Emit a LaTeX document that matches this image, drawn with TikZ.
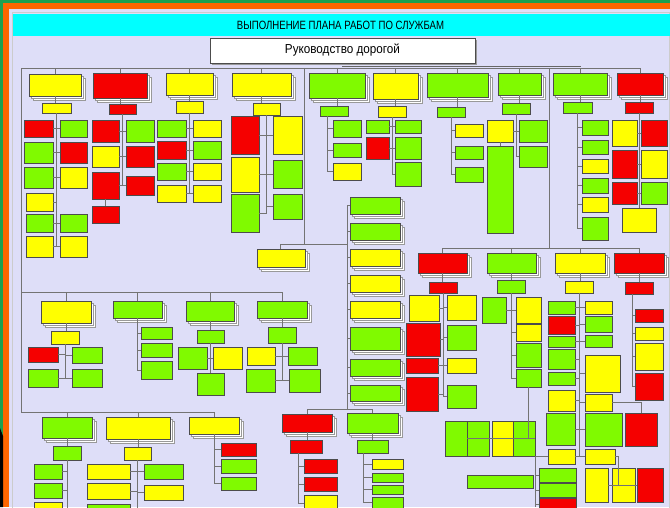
\documentclass[tikz,border=0pt]{standalone}
\usepackage{fontspec}
\setmainfont{Liberation Sans}
\usepackage{xcolor}
\usetikzlibrary{shadows}
\definecolor{boxY}{RGB}{255,255,0}
\definecolor{boxR}{RGB}{245,0,0}
\definecolor{boxG}{RGB}{128,250,0}
\definecolor{lav}{RGB}{222,222,248}
\definecolor{barC}{RGB}{0,255,255}
\definecolor{frameO}{RGB}{255,102,0}
\definecolor{frameG}{RGB}{30,160,80}
\begin{document}
\begin{tikzpicture}[x=1pt, y=-1pt,
  base/.style={draw=black!70, line width=0.4pt, inner sep=0pt, outer sep=0pt},
  box/.style={base, general shadow={shadow xshift=0.8pt, shadow yshift=-0.8pt, fill=black!45}},
  stack/.style={base, double copy shadow={shadow xshift=2pt, shadow yshift=-2pt, fill=white, draw=black!40}},
  wire/.style={draw=black!55, line width=0.6pt}]
\useasboundingbox (0,0) rectangle (670,507);
\fill[frameG] (0,0) rectangle (670,507);
\fill[frameO] (3,3) rectangle (670,507);
\fill[black] (0,428) -- (3,436) -- (3,507) -- (0,507) -- cycle;
\fill[lav] (9,9) rectangle (670,507);
\draw[black!20] (12,12) rectangle (669,508);
\fill[barC] (13,14) rectangle (670,36);
\node (title) at (340.5,25) {\scalebox{0.8}[1]{\fontsize{12}{14}\selectfont ВЫПОЛНЕНИЕ ПЛАНА РАБОТ ПО СЛУЖБАМ}};
\node[base, fill=white, minimum width=265pt, minimum height=25pt,
  general shadow={shadow xshift=2pt, shadow yshift=-2pt, fill=black!40}] (hq) at (342.5,50.5)
  {\scalebox{0.9}[1]{\fontsize{13}{15}\selectfont Руководство дорогой}};
\foreach \nm/\col/\xa/\ya/\xb/\yb in {
  t1/Y/29/74/81/96, t2/R/93/73/147/98, t3/Y/166/73/213/95, t4/Y/232/73/291/96, t5/G/309/73/365/98,
  t6/Y/373/73/418/99, t7/G/427/73/488/97, t8/G/498/73/541/95, t9/G/553/73/607/95, t10/R/617/73/663/95,
  m0/Y/257/249/305/267, m1/G/350/197/400/214, m2/G/350/223/400/240, m3/Y/350/249/400/266,
  m4/Y/350/275/400/292, m5/Y/350/301/400/318, m6/G/350/327/400/350, m7/G/350/359/400/376, m8/G/350/385/400/401,
  sD/Y/41/301/91/323, sE/G/113/301/162/318, sF/G/186/301/234/321, sG/G/257/301/307/318,
  sA/G/42/417/92/438, sB/Y/106/417/170/439, sC/Y/189/417/239/434, sH/R/282/414/332/432, sL/G/347/413/398/433,
  b1/R/418/253/467/273, b2/G/487/253/536/273, b3/Y/555/253/605/273, b4/R/614/253/664/273}
  \node[stack, fill=box\col, minimum width={(\xb-\xa)*1pt}, minimum height={(\yb-\ya)*1pt}] (\nm) at ({(\xa+\xb)/2},{(\ya+\yb)/2}) {};
\foreach \nm/\col/\xa/\ya/\xb/\yb in {
  n1/Y/42/103/71/113, t1a/R/24/120/53/137, t1b/G/24/142/53/163, t1c/G/24/167/53/188, t1d/Y/26/193/53/211,
  t1e/G/26/214/53/232, t1f/Y/26/236/53/257, t1g/G/60/120/87/137, t1h/R/60/142/87/163, t1i/Y/60/167/87/188,
  t1j/G/60/214/87/232, t1k/Y/60/236/87/257,
  n2/R/109/104/136/114, t2a/R/92/120/119/142, t2b/Y/92/146/119/167, t2c/R/92/172/119/199, t2d/R/92/206/119/223,
  t2e/G/126/120/154/142, t2f/R/126/146/154/167, t2g/R/126/176/154/195,
  n3/Y/176/101/203/113, t3a/G/157/120/186/137, t3b/R/157/141/186/159, t3c/G/157/163/186/180, t3d/Y/157/185/186/202,
  t3e/Y/193/120/221/137, t3f/G/193/141/221/159, t3g/Y/193/163/221/180, t3h/Y/193/185/221/202,
  n4/Y/253/103/280/115, t4a/R/231/116/259/154, t4b/Y/231/157/259/192, t4c/G/231/194/259/232,
  t4d/Y/273/116/302/154, t4e/G/273/160/302/188, t4f/G/273/194/302/219,
  n5/G/320/106/348/116, t5a/G/333/120/361/137, t5b/G/333/143/361/157, t5c/Y/333/163/361/180,
  n6/Y/378/106/406/117, t6a/G/366/120/389/133, t6b/R/366/137/389/159, t6c/G/395/120/421/133,
  t6d/G/395/137/421/159, t6e/G/395/162/421/186,
  n7/G/437/107/465/117, t7a/Y/455/124/483/137, t7b/G/455/146/483/159, t7c/G/455/167/483/182,
  n8/G/502/103/530/114, t8a/Y/487/120/513/142, t8b/G/487/146/513/233, t8c/G/519/120/547/142, t8d/G/519/146/547/167,
  n9/G/563/102/592/113, t9a/G/582/120/608/135, t9b/G/582/140/608/154, t9c/Y/582/159/608/173,
  t9d/G/582/178/608/193, t9e/Y/582/197/608/212, t9f/G/582/217/608/240,
  n10/R/625/102/653/113, t10a/Y/612/120/637/146, t10b/R/612/150/637/178, t10c/R/612/182/637/204,
  t10d/R/641/120/667/146, t10e/Y/641/150/667/178, t10f/G/641/182/667/204, t10g/Y/622/208/656/232,
  nD/Y/51/331/79/344, dA/R/28/347/58/362, dB/G/28/369/58/387, dC/G/72/347/102/363, dD/G/72/369/102/387,
  eA/G/141/327/172/339, eB/G/141/343/172/357, eC/G/141/361/172/379,
  nF/G/197/330/224/343, fA/G/178/347/207/369, fB/Y/213/347/242/369, fC/G/197/373/224/395,
  nG/G/268/327/296/343, gA/Y/247/347/275/365, gB/G/246/369/275/392, gC/G/288/347/317/365, gD/G/289/369/320/392,
  nA/G/53/446/81/460, aA/G/34/464/62/479, aB/G/34/483/62/498, aC/Y/34/502/62/514,
  nB/Y/124/447/151/460, bA/Y/87/464/130/479, bB/Y/87/483/130/499, bC/G/87/504/130/516,
  bD/G/144/464/183/479, bE/Y/144/485/183/500,
  cA/R/221/443/256/456, cB/G/221/459/256/473, cC/G/221/477/256/490,
  nH/R/290/440/322/453, hA/R/304/459/337/473, hB/R/304/477/337/491, hC/Y/304/495/337/512,
  nL/G/357/440/388/453, lA/Y/372/459/403/469, lB/G/372/473/403/482, lC/G/372/485/403/494, lD/G/372/497/403/508,
  nb1/R/429/282/457/293, b1a/Y/409/295/439/321, b1b/R/406/323/440/356, b1c/R/406/358/438/373, b1d/R/406/377/438/411,
  b1e/Y/447/295/476/320, b1f/G/447/325/476/350, b1g/Y/447/358/476/373, b1h/G/447/385/476/408,
  nb2/G/497/280/525/293, b2a/G/482/297/506/323, b2b/Y/516/297/541/323, b2c/Y/516/324/541/341,
  b2d/G/516/343/541/367, b2e/G/516/369/541/387,
  q1/G/445/421/467/456, q2/G/467/421/489/456, q3/Y/492/421/513/456, q4/G/513/421/535/456, w1/G/467/475/533/488,
  nb3/Y/565/281/593/293, b3a/G/548/301/575/314, b3b/R/548/316/575/334, b3c/G/548/336/575/347,
  b3d/G/548/349/575/369, b3e/G/548/372/575/385, b3f/Y/548/390/575/411, b3g/G/546/413/575/445,
  b3h/Y/548/449/575/464, b3i/Y/585/301/612/314, b3j/G/585/316/612/332, b3k/G/585/335/612/347,
  b3l/Y/585/355/620/392, b3m/Y/585/394/612/411, b3n/G/585/413/622/446, b3o/Y/585/449/615/464,
  b3p/R/625/413/657/446, b3q/G/539/468/576/482, b3r/G/539/483/576/497, b3s/R/539/498/576/510,
  b3t/Y/585/468/608/502, b3u/Y/612/468/635/502, b3v/R/637/468/663/502,
  nb4/R/625/282/653/294, b4a/R/635/309/663/322, b4b/Y/635/327/663/340, b4c/Y/635/343/663/370, b4d/R/635/373/663/400}
  \node[box, fill=box\col, minimum width={(\xb-\xa)*1pt}, minimum height={(\yb-\ya)*1pt}] (\nm) at ({(\xa+\xb)/2},{(\ya+\yb)/2}) {};
\coordinate (busL) at (21,68);
\coordinate (busR) at (640,68);
\coordinate (r2L) at (21,292);
\coordinate (r2R) at (282,292);
\coordinate (r3L) at (21,412);
\coordinate (r3R) at (214,412);
\coordinate (trT) at (304,68);
\coordinate (trB) at (304,244);
\coordinate (m0bus) at (280,244);
\coordinate (msT) at (347,205);
\coordinate (msB) at (347,409);
\coordinate (b2T) at (549,68);
\coordinate (brL) at (443,248);
\coordinate (brR) at (639,248);
\coordinate (s5) at (327,116);
\coordinate (sHs) at (298,453);
\coordinate (sLs) at (363,453);
\coordinate (sb4) at (632,294);
\coordinate (qbus) at (528.5,418);
\coordinate (tb) at (618,465);
\coordinate (lsp) at (535,507);
\draw[wire] (busL) -- (busR);
\draw[black!60, line width=1.6pt] (342,66.5) -- (581,66.5);
\draw[wire] (busL) -- (r3L) -- (r3R);
\draw[wire] (r2L) -- (r2R);
\draw[wire] (trT) -- (trB) -- (m0bus) -- (m0.north -| m0bus);
\draw[wire] (trB) -- (trB -| msT);
\draw[wire] (msT) -- (msB);
\draw[wire] (msB) -| (sH.north);
\draw[wire] (msB) -| (sL.north);
\draw[wire] (b2T) -- (b2T |- brL);
\draw[wire] (brL) -- (brR);
\foreach \sv in {t1,t2,t3,t4,t5,t6,t7,t8,t9,t10}
  \draw[wire] (\sv.north) -- (\sv.north |- busL);
\foreach \sv in {sD,sE,sF,sG}
  \draw[wire] (\sv.north) -- (\sv.north |- r2L);
\foreach \sv in {sA,sB,sC}
  \draw[wire] (\sv.north) -- (\sv.north |- r3L);
\foreach \sv in {b1,b2,b3,b4}
  \draw[wire] (\sv.north) -- (\sv.north |- brL);
\foreach \sv in {m1,m2,m3,m4,m5,m6,m7,m8}
  \draw[wire] (\sv.west -| msT) -- (\sv.west);
\foreach \a/\b in {t1/n1,t2/n2,t3/n3,t4/n4,t5/n5,t6/n6,t7/n7,t8/n8,t9/n9,t10/n10,
  sD/nD,sF/nF,sG/nG,sA/nA,sB/nB,sH/nH,sL/nL,b1/nb1,b2/nb2,b3/nb3,b4/nb4,
  t2c/t2d,t8a/t8b,n10/t10g,nF/fC,b2e/qbus}
  \draw[wire] (\a.south) -- (\a.south |- \b.north);
\foreach \p/\ch in {
  n1.south/t1a,n1.south/t1b,n1.south/t1c,n1.south/t1d,n1.south/t1e,n1.south/t1f,
  n1.south/t1g,n1.south/t1h,n1.south/t1i,n1.south/t1j,n1.south/t1k,
  n2.south/t2a,n2.south/t2b,n2.south/t2c,n2.south/t2e,n2.south/t2f,n2.south/t2g,
  n3.south/t3a,n3.south/t3b,n3.south/t3c,n3.south/t3d,n3.south/t3e,n3.south/t3f,n3.south/t3g,n3.south/t3h,
  n4.south/t4a,n4.south/t4b,n4.south/t4c,n4.south/t4d,n4.south/t4e,n4.south/t4f,
  s5/t5a,s5/t5b,s5/t5c,
  n6.south/t6a,n6.south/t6b,n6.south/t6c,n6.south/t6d,n6.south/t6e,
  n7.south/t7a,n7.south/t7b,n7.south/t7c,
  n8.south/t8a,n8.south/t8c,n8.south/t8d,
  n9.south/t9a,n9.south/t9b,n9.south/t9c,n9.south/t9d,n9.south/t9e,n9.south/t9f,
  n10.south/t10a,n10.south/t10b,n10.south/t10c,n10.south/t10d,n10.south/t10e,n10.south/t10f,
  nD.south/dA,nD.south/dB,nD.south/dC,nD.south/dD,
  sE.south/eA,sE.south/eB,sE.south/eC,
  nF.south/fA,nF.south/fB,
  nG.south/gA,nG.south/gB,nG.south/gC,nG.south/gD,
  nA.south/aA,nA.south/aB,nA.south/aC,
  nB.south/bA,nB.south/bB,nB.south/bC,nB.south/bD,nB.south/bE,
  sC.south/cA,sC.south/cB,sC.south/cC,
  sHs/hA,sHs/hB,sHs/hC,
  sLs/lA,sLs/lB,sLs/lC,sLs/lD,
  nb1.south/b1a,nb1.south/b1b,nb1.south/b1c,nb1.south/b1d,
  nb1.south/b1e,nb1.south/b1f,nb1.south/b1g,nb1.south/b1h,
  nb2.south/b2a,nb2.south/b2b,nb2.south/b2c,nb2.south/b2d,nb2.south/b2e,
  nb3.south/b3a,nb3.south/b3b,nb3.south/b3c,nb3.south/b3d,nb3.south/b3e,nb3.south/b3f,nb3.south/b3g,nb3.south/b3h,
  nb3.south/b3i,nb3.south/b3j,nb3.south/b3k,nb3.south/b3l,nb3.south/b3m,nb3.south/b3n,nb3.south/b3o,
  sb4/b4a,sb4/b4b,sb4/b4c,sb4/b4d,
  qbus/q1,qbus/q2,qbus/q3,qbus/q4,
  tb/b3t,tb/b3u,tb/b3v}
  \draw[wire] (\p) |- (\ch);
\draw[wire] (b3m.east) -| (b3p.north);
\draw[wire] (b3o.east) -| (tb);
\draw[wire] (b3h.west) -| (lsp);
\foreach \sv in {b3q,b3r,b3s}
  \draw[wire] (\sv.west -| lsp) -- (\sv.west);
\end{tikzpicture}
\end{document}
